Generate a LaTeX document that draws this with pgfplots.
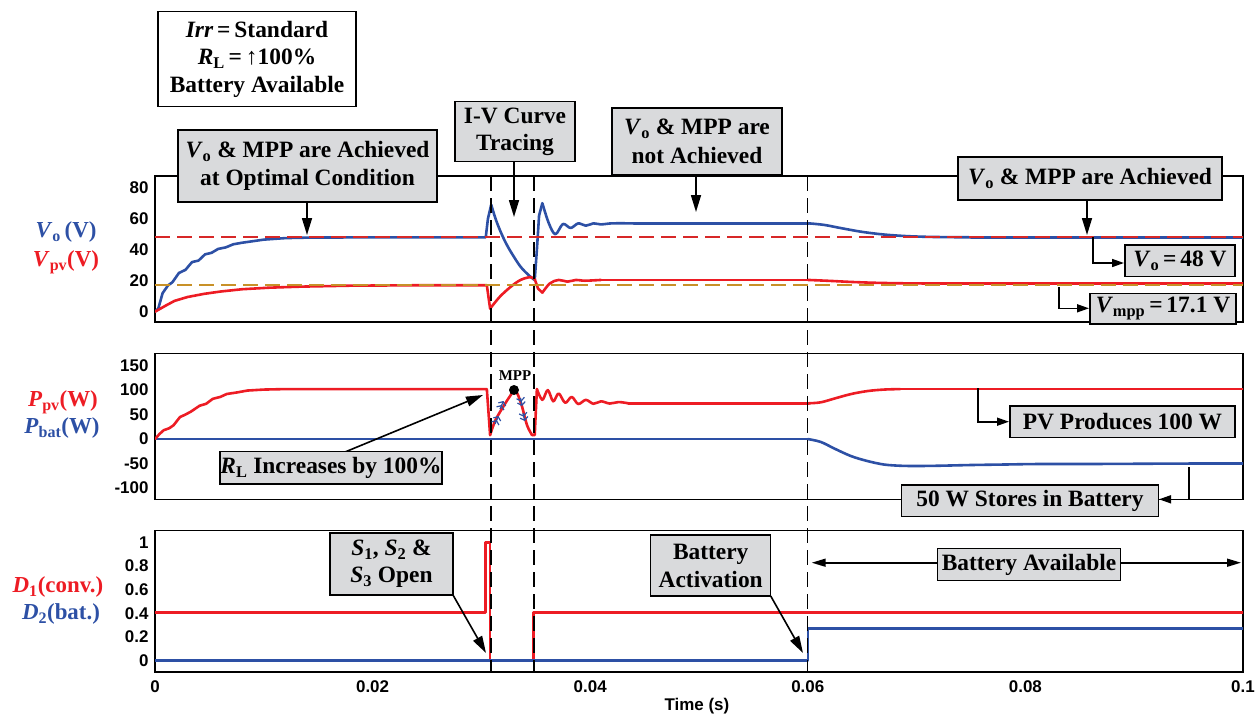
\documentclass[border=0pt]{standalone}
\usepackage{pgfplots}
\pgfplotsset{compat=1.18}
\usetikzlibrary{arrows.meta}
\usepackage{fontspec}
\setmainfont{Liberation Serif}
\newfontfamily\hsans{Liberation Sans}
\definecolor{cblue}{RGB}{45,80,165}
\definecolor{cred}{RGB}{237,28,36}
\definecolor{dred}{RGB}{215,40,40}
\definecolor{corange}{RGB}{200,145,40}
\definecolor{boxgray}{RGB}{217,218,220}
\begin{document}
\begin{tikzpicture}[x=1bp,y=1bp]
\path (0,0) rectangle (1260,-717);
\pgfplotsset{panel/.style={scale only axis, width=1088bp, xmin=0, xmax=0.1,
  anchor=north west, axis line style={line width=1.2bp}, tick style={draw=none},
  scaled x ticks=false, scaled y ticks=false, clip=true,
  yticklabel style={font=\hsans\bfseries\fontsize{17}{17}\selectfont, xshift=-3bp},
  xticklabel style={font=\hsans\bfseries\fontsize{17}{17}\selectfont, yshift=-5bp},
  every axis plot/.append style={line width=2.6bp, line join=round, line cap=round}},
  sm/.style={smooth, tension=0.55}}
% ---------- Panel 1 ----------
\begin{axis}[panel, at={(155bp,-176bp)}, height=146bp, ymin=-6.65, ymax=87.55,
  xtick=\empty, ytick={0,20,40,60,80}, yticklabels={0,20,40,60,80}]
\addplot[cblue] coordinates {(0,0)(0.0003,2)(0.0007,12)(0.0012,17)(0.0016,19)(0.0022,25)(0.0028,27)(0.0034,32)(0.004,33)(0.0046,37)(0.0052,38)(0.0058,40.5)(0.0065,41.5)(0.0072,43.5)(0.008,44.5)(0.009,45.5)(0.010,46.5)(0.011,47)(0.012,47.5)(0.014,47.8)(0.02,48)(0.0304,48)(0.0306,60)(0.0309,69)};
\addplot[cblue, sm] coordinates {(0.0309,69)(0.0313,60)(0.0317,52.7)(0.0322,45)(0.0327,38.7)(0.0336,29)(0.0345,22.6)(0.0349,20.5)};
\addplot[cblue] coordinates {(0.0349,20.5)(0.0351,40)(0.0353,62)(0.0356,70)};
\addplot[cblue, sm] coordinates {(0.0356,70)(0.0362,57)(0.0368,50)(0.0375,56.6)(0.0382,54)(0.0389,57)(0.0396,55.5)(0.0403,57)(0.041,56.3)(0.042,57)(0.044,57)};
\addplot[cblue] coordinates {(0.044,57)(0.0601,57)};
\addplot[cblue, sm] coordinates {(0.0601,57)(0.0615,56)(0.063,54)(0.065,51.5)(0.067,49.8)(0.069,48.8)(0.071,48.3)(0.073,48.1)(0.075,48)};
\addplot[cblue] coordinates {(0.075,48)(0.1,48)};
\addplot[cred] coordinates {(0,0)(0.0005,2)(0.001,4)(0.0018,7)(0.003,9.5)(0.0045,11.5)(0.006,13)(0.008,14.5)(0.0105,15.5)(0.0135,16.2)(0.018,16.8)(0.025,17.1)(0.0305,17.1)(0.0308,2)};
\addplot[cred, sm] coordinates {(0.0308,2)(0.0317,9.7)(0.0327,16.1)(0.0336,20.5)(0.0345,22.3)(0.0349,21)};
\addplot[cred] coordinates {(0.0349,21)(0.0352,15)(0.0356,12.3)};
\addplot[cred, sm] coordinates {(0.0356,12.3)(0.0363,18.3)(0.0371,20.5)(0.0379,19.4)(0.0387,20.5)(0.0395,20)(0.041,20.5)};
\addplot[cred] coordinates {(0.041,20.5)(0.06,20.5)};
\addplot[cred, sm] coordinates {(0.06,20.5)(0.062,19.9)(0.064,19.2)(0.066,18.7)(0.068,18.4)(0.07,18.25)(0.072,18.2)};
\addplot[cred] coordinates {(0.072,18.2)(0.1,18.2)};
\addplot[dred, line width=2bp, line cap=butt, dash pattern=on 15bp off 7bp] coordinates {(0,48)(0.1,48)};
\addplot[corange, line width=2bp, line cap=butt, dash pattern=on 15bp off 7bp] coordinates {(0,17.1)(0.1,17.1)};
\end{axis}
% ---------- Panel 2 ----------
\begin{axis}[panel, at={(155bp,-353.3bp)}, height=146bp, ymin=-123, ymax=175,
  xtick=\empty, ytick={-100,-50,0,50,100,150}, yticklabels={-100,-50,0,50,100,150}]
\addplot[cblue] coordinates {(0,0)(0.0600,0)};
\addplot[cblue, sm] coordinates {(0.06,0)(0.0612,-6)(0.0625,-20)(0.064,-35)(0.0655,-45)(0.067,-52)(0.0685,-54.5)(0.070,-55)(0.072,-54.5)(0.075,-53)(0.078,-52)(0.081,-51)(0.085,-51)(0.09,-50.5)(0.095,-50)(0.1,-50)};
\addplot[cred] coordinates {(0,0)(0.0004,10)(0.0008,18)(0.0013,22)(0.0017,28)(0.0023,45)(0.0028,50)(0.0033,56)(0.0041,68)(0.0047,72)(0.0053,82)(0.006,86)(0.0066,92)(0.0075,95)(0.0085,99)(0.01,101)(0.012,102)(0.0305,102)(0.0308,8)};
\addplot[cred, sm] coordinates {(0.0308,8)(0.0313,39)(0.0322,73)(0.0327,90)(0.0330,100)(0.0333,93)(0.0337,69)(0.0342,28)(0.03466,8)};
\addplot[cred] coordinates {(0.03466,8)(0.0349,8)(0.0351,102)};
\addplot[cred, sm] coordinates {(0.0351,102)(0.0356,80)(0.0361,100)(0.0366,77)(0.0371,93)(0.0377,74)(0.0383,86)(0.0389,71.5)(0.0396,80)(0.0403,72)(0.041,77)(0.0418,72.5)(0.0426,75.5)(0.0435,73)};
\addplot[cred] coordinates {(0.0435,73)(0.0601,73)};
\addplot[cred, sm] coordinates {(0.0601,73)(0.0612,75)(0.0625,83)(0.064,92)(0.0655,98)(0.067,101)(0.0685,102)};
\addplot[cred] coordinates {(0.0685,102)(0.1,102)};
\end{axis}
% ---------- Panel 3 ----------
\begin{axis}[panel, at={(155bp,-530.7bp)}, height=141.3bp, ymin=-0.096, ymax=1.10,
  xtick={0,0.02,0.04,0.06,0.08,0.1}, xticklabels={0,0.02,0.04,0.06,0.08,0.1},
  ytick={0,0.2,0.4,0.6,0.8,1}, yticklabels={0,0.2,0.4,0.6,0.8,1}]
\addplot[cred] coordinates {(0,0.41)(0.0304,0.41)(0.0304,1)(0.0308,1)(0.0308,0)(0.0348,0)(0.0348,0.41)(0.1,0.41)};
\addplot[cblue] coordinates {(0,0)(0.06,0)(0.06,0.27)(0.1,0.27)};
\end{axis}
% ---------- vertical dashed lines ----------
\foreach \xx in {490.7,534.3,807.5}
  \draw[line width=1.8bp, dash pattern=on 15bp off 7bp] (\xx,-176) -- (\xx,-672);
% ---------- labels ----------
\node[font=\hsans\bfseries\fontsize{17}{17}\selectfont] at (697,-706) {Time (s)};
\begin{scope}[every node/.style={font=\bfseries\fontsize{23}{23}\selectfont, inner sep=0pt}]
\node[text=cblue] at (66,-232) {\textit{V}\textsubscript{o}\,(V)};
\node[text=cred] at (66,-262) {\textit{V}\textsubscript{pv}(V)};
\node[text=cred] at (63,-402) {\textit{P}\textsubscript{pv}(W)};
\node[text=cblue] at (62,-428) {\textit{P}\textsubscript{bat}(W)};
\node[text=cred] at (58,-587) {\textit{D}\textsubscript{1}(conv.)};
\node[text=cblue] at (61,-614) {\textit{D}\textsubscript{2}(bat.)};
\end{scope}
% ---------- annotations ----------
\tikzset{box/.style={draw=black, line width=1.5bp, fill=boxgray, align=center, inner sep=0pt,
   font=\bfseries\fontsize{23.5}{28.5}\selectfont},
  arr/.style={line width=1.6bp, -{Triangle[length=17bp,width=10bp]}},
  arrs/.style={line width=1.6bp, -{Triangle[length=12bp,width=8bp]}}}
\node[box, fill=white, minimum width=198bp, minimum height=95bp, font=\bfseries\fontsize{23.5}{27.7}\selectfont] at (257,-59.2)
  {\textit{Irr}\,=\,Standard\\\textit{R}\textsubscript{L}\,=\,↑100\%\\Battery Available};
\draw[arr] (307,-202) -- (307,-235);
\node[box, minimum width=259bp, minimum height=72bp] at (307.5,-166)
  {\textit{V}\textsubscript{o} \& MPP are Achieved\\at Optimal Condition};
\draw[arr] (514,-161.7) -- (514,-217);
\node[box, minimum width=120bp, minimum height=60bp, font=\bfseries\fontsize{23.5}{27}\selectfont] at (515,-131.7) {I-V Curve\\Tracing};
\draw[arr] (696,-175) -- (696,-212);
\node[box, minimum width=170bp, minimum height=67bp] at (697,-141.5)
  {\textit{V}\textsubscript{o} \& MPP are\\not Achieved};
\draw[arr] (1087,-200) -- (1087,-235);
\node[box, minimum width=264bp, minimum height=43bp] at (1090,-178.5)
  {\textit{V}\textsubscript{o} \& MPP are Achieved};
\draw[arrs] (1093,-237) -- (1093,-263) -- (1124,-263);
\node[box, minimum width=110bp, minimum height=31.7bp] at (1180,-260.8) {\textit{V}\textsubscript{o}\,=\,48 V};
\draw[arrs] (1059,-287) -- (1059,-308.3) -- (1089,-308.3);
\node[box, minimum width=146bp, minimum height=30.7bp] at (1163,-308.7) {\textit{V}\textsubscript{mpp}\,=\,17.1 V};
% MPP
\fill (514,-390) circle (5bp);
\node[font=\bfseries\fontsize{15}{15}\selectfont] at (515,-376) {MPP};
\foreach \a/\b/\c/\d in {495/-424/498.5/-416, 500/-409/503.5/-401, 520.5/-398/522/-406, 523/-413/524.8/-421}
  \draw[cblue, line width=1.2bp, -{Straight Barb[length=3bp,width=8bp]Straight Barb[length=3bp,width=8bp]}] (\a,\b) -- (\c,\d);
\draw[arr] (345,-452) -- (483,-395);
\node[box, minimum width=222bp, minimum height=32.3bp] at (331,-467.8) {\textit{R}\textsubscript{L} Increases by 100\%};
\draw[arrs] (978,-388.3) -- (978,-421.7) -- (1009,-421.7);
\node[box, minimum width=225bp, minimum height=31.3bp] at (1122.5,-421.7) {PV Produces 100 W};
\draw[arrs] (1189,-467.3) -- (1189,-499.3) -- (1159,-499.3);
\node[box, minimum width=256.6bp, minimum height=31.7bp] at (1030,-500.8) {50 W Stores in Battery};
\draw[arr] (453,-595) -- (486,-653);
\node[box, minimum width=123bp, minimum height=62bp, font=\bfseries\fontsize{23.5}{27}\selectfont] at (391.5,-564)
  {\textit{S}\textsubscript{1}, \textit{S}\textsubscript{2} \&\\\textit{S}\textsubscript{3} Open};
\draw[arr] (770.7,-596) -- (803,-653);
\node[box, minimum width=120bp, minimum height=61bp, font=\bfseries\fontsize{23.5}{28}\selectfont] at (710.7,-565.5) {Battery\\Activation};
\draw[line width=1.6bp, {Triangle[length=14bp,width=8bp]}-{Triangle[length=14bp,width=8bp]}] (811.7,-562.7) -- (1241,-562.7);
\node[box, minimum width=183bp, minimum height=32.4bp] at (1029,-564.5) {Battery Available};
\end{tikzpicture}
\end{document}
